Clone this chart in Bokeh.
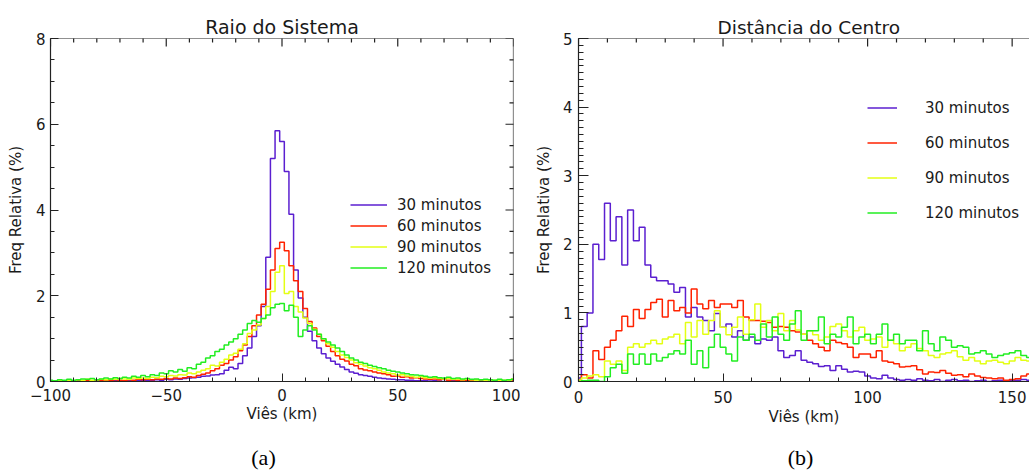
import math
from bokeh.plotting import figure
from bokeh.models import (Range1d, SingleIntervalTicker, Label, Legend, LegendItem,
                          Span, Title)
from bokeh.layouts import row, column
from bokeh.embed import file_html
from bokeh.resources import INLINE

# ---------------- data ----------------
series_names = ["30 minutos", "60 minutos", "90 minutos", "120 minutos"]

# (a) Raio do Sistema : bin centres -100 .. 100 km (2 km bins)
x_left = list(range(-100, 101, 2))

left_30 = [
    0.01, 0.0, 0.01, 0.0, 0.02, 0.0, 0.01, 0.01, 0.0, 0.02, 0.01, 0.0, 0.02, 0.01, 0.02, 0.0, 0.01, 0.02, 0.01, 0.02,
    0.03, 0.02, 0.03, 0.04, 0.03, 0.05, 0.04, 0.06, 0.05, 0.07,
    0.08, 0.09, 0.1, 0.12, 0.13, 0.15, 0.16, 0.18, 0.26, 0.33,
    0.3, 0.42, 0.6, 0.78, 1.05, 1.3, 1.75, 2.9, 5.2, 5.85,
    5.6, 4.9, 3.9, 2.6, 1.95, 1.5, 1.17, 0.95, 0.78, 0.65,
    0.55, 0.47, 0.4, 0.34, 0.28, 0.22, 0.19, 0.16, 0.14, 0.12,
    0.1, 0.08, 0.07, 0.06, 0.05, 0.04, 0.04, 0.03, 0.03, 0.02,
    0.02,
    0.02, 0.01, 0.02, 0.01, 0.0, 0.01, 0.02, 0.0, 0.01, 0.0, 0.01, 0.0, 0.01, 0.0, 0.0, 0.01, 0.0, 0.01, 0.0, 0.0]

left_60 = [
    0.01, 0.02, 0.0, 0.01, 0.02, 0.01, 0.03, 0.01, 0.02, 0.02, 0.03, 0.02, 0.03, 0.02, 0.04, 0.03, 0.02, 0.04, 0.03, 0.05,
    0.04, 0.05, 0.04, 0.06, 0.05, 0.07, 0.06, 0.08, 0.07, 0.09,
    0.11, 0.1, 0.14, 0.17, 0.2, 0.25, 0.3, 0.38, 0.42, 0.5,
    0.58, 0.72, 0.85, 1.05, 1.3, 1.55, 1.8, 2.15, 2.6, 3.1,
    3.25, 3.05, 2.7, 2.35, 2.1, 1.7, 1.4, 1.25, 1.05, 0.95,
    0.82, 0.7, 0.6, 0.52, 0.48, 0.4, 0.37, 0.3, 0.27, 0.25,
    0.22, 0.2, 0.18, 0.16, 0.12, 0.13, 0.1, 0.11, 0.08, 0.09,
    0.07,
    0.06, 0.05, 0.06, 0.04, 0.05, 0.03, 0.04, 0.03, 0.02, 0.03, 0.02, 0.03, 0.01, 0.02, 0.02, 0.01, 0.02, 0.01, 0.02, 0.01]

left_90 = [
    0.02, 0.01, 0.03, 0.02, 0.03, 0.02, 0.04, 0.03, 0.05, 0.03, 0.04, 0.05, 0.04, 0.06, 0.05, 0.07, 0.06, 0.05, 0.08, 0.07,
    0.08, 0.07, 0.1, 0.09, 0.12, 0.11, 0.14, 0.13, 0.16, 0.15,
    0.2, 0.18, 0.22, 0.26, 0.3, 0.38, 0.36, 0.45, 0.52, 0.62,
    0.66, 0.75, 0.88, 1.12, 1.2, 1.32, 1.47, 1.75, 2.1, 2.55,
    2.7, 2.05, 2.1, 1.75, 1.62, 1.48, 1.35, 1.22, 1.1, 1.0,
    0.88, 0.8, 0.7, 0.62, 0.56, 0.5, 0.44, 0.4, 0.36, 0.32,
    0.3, 0.26, 0.22, 0.2, 0.18, 0.15, 0.16, 0.13, 0.12, 0.1,
    0.11,
    0.09, 0.08, 0.09, 0.07, 0.06, 0.07, 0.05, 0.06, 0.04, 0.05, 0.04, 0.03, 0.04, 0.03, 0.02, 0.03, 0.02, 0.03, 0.02, 0.06]

left_120 = [
    0.03, 0.02, 0.04, 0.03, 0.05, 0.03, 0.04, 0.06, 0.05, 0.07, 0.04, 0.06, 0.08, 0.06, 0.09, 0.07, 0.1, 0.08, 0.12, 0.1,
    0.14, 0.11, 0.16, 0.14, 0.2, 0.18, 0.25, 0.22, 0.28, 0.24,
    0.32, 0.3, 0.4, 0.45, 0.55, 0.6, 0.7, 0.75, 0.85, 0.92,
    1.0, 1.1, 1.2, 1.35, 1.42, 1.38, 1.47, 1.55, 1.72, 1.8,
    1.82, 1.65, 1.78, 1.5, 1.05, 1.2, 1.3, 1.2, 1.1, 1.0,
    0.92, 0.85, 0.78, 0.7, 0.62, 0.55, 0.5, 0.45, 0.42, 0.38,
    0.35, 0.32, 0.3, 0.26, 0.24, 0.22, 0.2, 0.18, 0.16, 0.15,
    0.14,
    0.12, 0.1, 0.11, 0.09, 0.08, 0.1, 0.07, 0.08, 0.06, 0.07, 0.05, 0.06, 0.04, 0.05, 0.04, 0.03, 0.05, 0.03, 0.04, 0.05]

# (b) Distancia do Centro : bin centres 0 .. 158 km (2 km bins)
x_right = list(range(0, 160, 2))

right_30 = [
    0.05, 0.8, 1.0, 2.0, 1.78, 2.6, 2.05, 2.4, 1.7, 2.5,
    2.05, 2.25, 1.7, 1.52, 1.47, 1.47, 1.42, 1.3, 1.37, 0.94,
    1.08, 0.94, 0.89, 0.74, 0.99, 0.79, 0.84, 0.65, 0.74, 0.6,
    0.65, 0.55, 0.62, 0.6, 0.65, 0.45, 0.35, 0.38, 0.45, 0.31,
    0.28, 0.26, 0.22, 0.23, 0.16, 0.23, 0.18, 0.14, 0.15, 0.14,
    0.08, 0.05, 0.04, 0.09, 0.05, 0.03, 0.02, 0.03, 0.02, 0.04,
    0.02, 0.01, 0.03, 0.0, 0.02, 0.03, 0.01, 0.02, 0.0, 0.01,
    0.02, 0.0, 0.01, 0.02, 0.0, 0.01, 0.02, 0.03, 0.02, 0.03]

right_60 = [
    0.02, 0.1, 0.05, 0.45, 0.32, 0.5, 0.6, 0.74, 0.95, 0.8,
    1.05, 0.92, 1.05, 1.15, 1.2, 0.94, 1.18, 1.03, 1.08, 1.0,
    1.35, 1.13, 1.06, 1.18, 1.08, 1.13, 1.13, 1.08, 1.18, 0.94,
    0.89, 0.89, 0.88, 0.86, 0.79, 0.8, 0.79, 0.74, 0.72, 0.69,
    0.6, 0.55, 0.5, 0.45, 0.6, 0.57, 0.55, 0.5, 0.35, 0.4,
    0.4, 0.35, 0.45, 0.3, 0.28, 0.26, 0.21, 0.22, 0.23, 0.17,
    0.11, 0.14, 0.13, 0.16, 0.12, 0.09, 0.1, 0.07, 0.11, 0.08,
    0.06, 0.05, 0.04, 0.05, 0.02, 0.03, 0.04, 0.08, 0.11, 0.12]

right_90 = [
    0.02, 0.05, 0.08, 0.1, 0.07, 0.3, 0.25, 0.3, 0.16, 0.5,
    0.55, 0.5, 0.55, 0.6, 0.55, 0.62, 0.65, 0.69, 0.55, 0.86,
    0.65, 0.89, 0.69, 0.89, 1.03, 0.79, 0.68, 0.79, 0.94, 0.69,
    0.9, 1.13, 0.79, 0.89, 0.74, 0.99, 0.74, 0.89, 0.75, 0.69,
    0.74, 0.68, 0.6, 0.65, 0.8, 0.84, 0.74, 0.65, 0.74, 0.79,
    0.6, 0.62, 0.65, 0.5, 0.6, 0.55, 0.45, 0.5, 0.55, 0.48,
    0.45, 0.38, 0.35, 0.4, 0.42, 0.45, 0.36, 0.31, 0.35, 0.3,
    0.26, 0.3, 0.31, 0.28, 0.26, 0.3, 0.35, 0.31, 0.3, 0.33]

right_120 = [
    0.0, 0.01, 0.02, 0.02, 0.0, 0.07, 0.2, 0.25, 0.12, 0.4,
    0.25, 0.4, 0.25, 0.4, 0.3, 0.35, 0.4, 0.45, 0.4, 0.6,
    0.25, 0.45, 0.2, 0.5, 0.69, 0.5, 0.4, 0.3, 0.65, 0.6,
    0.69, 0.6, 0.84, 0.65, 0.94, 0.69, 0.6, 0.84, 1.03, 0.6,
    0.74, 0.74, 0.94, 0.55, 0.69, 0.65, 0.79, 0.94, 0.55, 0.65,
    0.69, 0.55, 0.69, 0.84, 0.6, 0.69, 0.55, 0.6, 0.6, 0.45,
    0.74, 0.55, 0.45, 0.65, 0.6, 0.5, 0.52, 0.5, 0.4, 0.42,
    0.45, 0.4, 0.35, 0.38, 0.4, 0.42, 0.45, 0.38, 0.35, 0.3]

left_series = [left_30, left_60, left_90, left_120]
right_series = [right_30, right_60, right_90, right_120]
for s in left_series:
    assert len(s) == len(x_left)
for s in right_series:
    assert len(s) == len(x_right)

# tick positions for the mirrored (top / right) tick marks
left_top_ticks = list(range(-100, 101, 10))
left_right_ticks = [i * 0.5 for i in range(0, 17)]
right_top_ticks = list(range(0, 151, 10))

# ---------------- styling ----------------
FONT = "DejaVu Sans"
TXT = "#1a1a1a"
AX = "#222222"
COLORS = ["#5b1fd0", "#ff2200", "#e4ff14", "#22ee22"]
LW = 1.5


def make_fig(width, height, xr, yr, mbl, mbr, mbt, mbb):
    p = figure(width=width, height=height, x_range=Range1d(*xr), y_range=Range1d(*yr),
               output_backend="svg", toolbar_location=None,
               min_border_left=mbl, min_border_right=mbr,
               min_border_top=mbt, min_border_bottom=mbb)
    p.xgrid.visible = False
    p.ygrid.visible = False
    p.outline_line_color = None
    p.background_fill_color = "white"
    p.border_fill_color = "white"
    return p


def style_axis(ax, interval, nminor, major, minor, standoff, label, label_standoff,
               overrides=None):
    ax.ticker = SingleIntervalTicker(interval=interval, num_minor_ticks=nminor)
    ax.major_tick_in = major
    ax.major_tick_out = 0
    ax.minor_tick_in = minor
    ax.minor_tick_out = 0
    ax.axis_line_color = AX
    ax.major_tick_line_color = AX
    ax.minor_tick_line_color = AX
    ax.axis_line_width = 1.2
    ax.major_label_text_font = FONT
    ax.major_label_text_font_size = "15px"
    ax.major_label_text_color = TXT
    ax.major_label_standoff = standoff
    ax.axis_label = label
    ax.axis_label_text_font = FONT
    ax.axis_label_text_font_size = "15px"
    ax.axis_label_text_font_style = "normal"
    ax.axis_label_text_color = TXT
    ax.axis_label_standoff = label_standoff
    if overrides:
        ax.major_label_overrides = overrides


def mirror_ticks(p, xs, ys, sizes, vertical):
    # dash markers centred on the frame edge: only the inner half is visible
    p.scatter(xs, ys, marker="dash", size=sizes, angle=(math.pi / 2 if vertical else 0),
              line_color=AX, line_width=1.2)


def set_title(p, text, size, align="center", offset=0):
    p.title = Title(text=text, align=align, offset=offset, vertical_align="bottom",
                    standoff=2, text_font=FONT, text_font_size=size,
                    text_font_style="normal", text_color=TXT)


# ---------------- (a) ----------------
p1 = make_fig(520, 440, (-100, 100), (0, 8), 50, 7, 35, 56)
style_axis(p1.xaxis[0], 50, 5, 8, 4, 7, "Viês (km)", 1,
           overrides={-100: "\u2212100", -50: "\u221250"})
style_axis(p1.yaxis[0], 2, 4, 8, 4, 5, "Freq Relativa (%)", 8)
p1.add_layout(Span(location=8, dimension="width", line_color=AX, line_width=1.2))
p1.add_layout(Span(location=100, dimension="height", line_color=AX, line_width=1.2))
mirror_ticks(p1, left_top_ticks, [8] * len(left_top_ticks),
             [16 if t % 50 == 0 else 8 for t in left_top_ticks], True)
mirror_ticks(p1, [100] * len(left_right_ticks), left_right_ticks,
             [16 if t % 2 == 0 else 8 for t in left_right_ticks], False)

r1 = []
for ys, c in zip(left_series, COLORS):
    r1.append(p1.step(x_left, ys, mode="center", line_color=c, line_width=LW))
leg1 = Legend(items=[LegendItem(label=n, renderers=[r]) for n, r in zip(series_names, r1)],
              location=(300, 103), padding=0, margin=0, spacing=0,
              glyph_width=37, glyph_height=21, label_height=21, label_standoff=10,
              label_text_font=FONT, label_text_font_size="15px", label_text_color=TXT,
              border_line_color=None, background_fill_alpha=0)
p1.add_layout(leg1)
set_title(p1, "Raio do Sistema", "19px")

# ---------------- (b) ----------------
p2 = make_fig(509, 440, (0, 156), (0, 5), 58, 0, 38, 59)
style_axis(p2.xaxis[0], 50, 5, 8, 4, 9, "Viês (km)", 2)
style_axis(p2.yaxis[0], 1, 10, 10, 5, 6, "Freq Relativa (%)", 7)
p2.add_layout(Span(location=5, dimension="width", line_color=AX, line_width=1.2))
mirror_ticks(p2, right_top_ticks, [5] * len(right_top_ticks),
             [16 if t % 50 == 0 else 8 for t in right_top_ticks], True)

r2 = []
for ys, c in zip(right_series, COLORS):
    r2.append(p2.step(x_right, ys, mode="center", line_color=c, line_width=LW))
leg2 = Legend(items=[LegendItem(label=n, renderers=[r]) for n, r in zip(series_names, r2)],
              location=(289, 151), padding=0, margin=0, spacing=0,
              glyph_width=30, glyph_height=35, label_height=35, label_standoff=28,
              label_text_font=FONT, label_text_font_size="15px", label_text_color=TXT,
              border_line_color=None, background_fill_alpha=0)
p2.add_layout(leg2)
set_title(p2, "Distância do Centro", "18.5px", align="left", offset=139)


# ---------------- captions ----------------
def caption_fig(width, text, x):
    c = figure(width=width, height=30, x_range=Range1d(0, 1), y_range=Range1d(0, 1),
               output_backend="svg", toolbar_location=None, min_border=0,
               x_axis_location=None, y_axis_location=None, title=None)
    c.grid.visible = False
    c.outline_line_color = None
    c.background_fill_color = "white"
    c.border_fill_color = "white"
    c.add_layout(Label(x=x, y=13, x_units="screen", y_units="screen", text=text,
                       text_align="center", text_baseline="middle",
                       text_font="Liberation Serif", text_font_size="22px",
                       text_color="#000000"))
    return c


c1 = caption_fig(520, "(a)", 263)
c2 = caption_fig(509, "(b)", 280)

layout = column(row(p1, p2), row(c1, c2))
open("out.html", "w").write(file_html(layout, INLINE, "Histogramas"))
